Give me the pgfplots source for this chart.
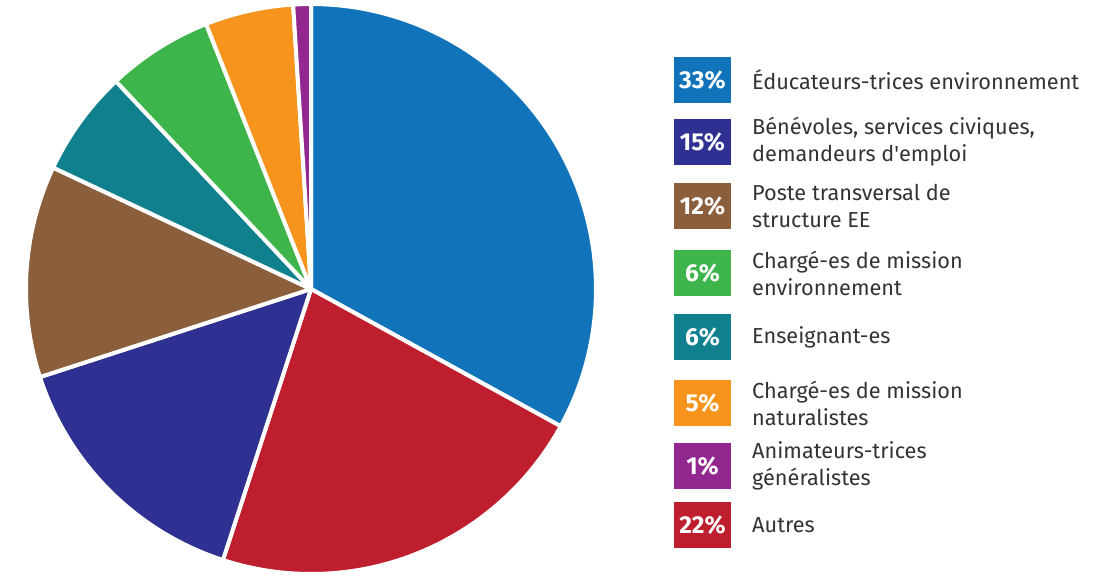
\documentclass[border=0pt]{standalone}
\usepackage{fontspec}
\setmainfont{Fira Sans}[Ligatures=TeXOff]
\usepackage{pgfplots}
\usepackage{pgfplotstable}
\pgfplotsset{compat=1.18}

\definecolor{cBlue}{RGB}{17,115,186}
\definecolor{cRed}{RGB}{190,30,45}
\definecolor{cNavy}{RGB}{46,49,146}
\definecolor{cBrown}{RGB}{139,94,60}
\definecolor{cTeal}{RGB}{16,128,143}
\definecolor{cGreen}{RGB}{61,181,74}
\definecolor{cOrange}{RGB}{247,148,29}
\definecolor{cPurple}{RGB}{146,39,143}
\definecolor{txt}{RGB}{51,51,51}

% shares, clockwise from 12 o'clock
\pgfplotstableread{
value color
33 cBlue
22 cRed
15 cNavy
12 cBrown
6  cTeal
6  cGreen
5  cOrange
1  cPurple
}\piedata

\newcommand{\legentry}[4]{%
  \node[fill=#2, minimum width=57pt, minimum height=46pt, inner sep=0pt,
        text=white, font=\fontsize{24.5}{27}\selectfont\bfseries]
    at (axis cs:702.5,#1) {#3};
  \node[anchor=west, align=left, inner sep=0pt, text=txt,
        font=\fontsize{21.7}{27}\selectfont]
    at (axis cs:752,#1) {#4};
}

\begin{document}
\begin{tikzpicture}
\begin{axis}[
    name=ax,
    x=1pt, y=1pt,
    xmin=0, xmax=1109, ymin=0, ymax=572,
    y dir=reverse,
    hide axis, clip=false,
]
\pgfmathsetmacro\cum{0}
\pgfplotsforeachungrouped \i in {0,...,7}{
  \pgfplotstablegetelem{\i}{value}\of\piedata \let\v\pgfplotsretval
  \pgfplotstablegetelem{\i}{color}\of\piedata \let\c\pgfplotsretval
  \pgfmathsetmacro\ta{\cum*3.6}
  \pgfmathsetmacro\tb{(\cum+\v)*3.6}
  \edef\temp{\noexpand\addplot[fill=\c, draw=white, line width=4pt, line join=round,
      domain=\ta:\tb, samples=80]
      ({311+285*sin(x)},{289-285*cos(x)}) -- (axis cs:311,289) -- cycle;}
  \temp
  \pgfmathsetmacro\cum{\cum+\v}
}
\legentry{80}{cBlue}{33\%}{Éducateurs-trices environnement}
\legentry{142}{cNavy}{15\%}{Bénévoles, services civiques,\\demandeurs d'emploi}
\legentry{206}{cBrown}{12\%}{Poste transversal de\\structure EE}
\legentry{273}{cGreen}{6\%}{Chargé-es de mission\\environnement}
\legentry{337}{cTeal}{6\%}{Enseignant-es}
\legentry{403}{cOrange}{5\%}{Chargé-es de mission\\naturalistes}
\legentry{466}{cPurple}{1\%}{Animateurs-trices\\généralistes}
\legentry{525}{cRed}{22\%}{Autres}
\end{axis}
\pgfresetboundingbox
\path (ax.south west) rectangle (ax.north east);
\end{tikzpicture}
\end{document}
